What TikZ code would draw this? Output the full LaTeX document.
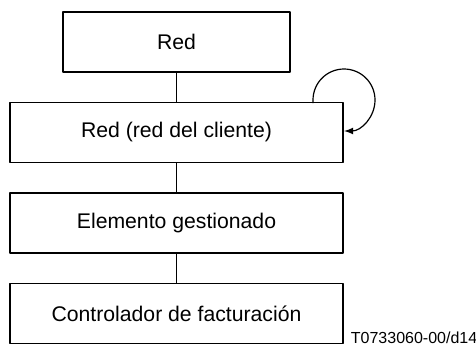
\documentclass[tikz,border=0pt]{standalone}
\usepackage{fontspec}
\setmainfont{Liberation Sans}
\begin{document}
\begin{tikzpicture}[x=0.5pt,y=0.5pt,line join=round,>=latex,
  box/.style={draw,line width=0.6pt,minimum width=166.5pt,minimum height=30pt,inner sep=0pt}]
  \fontsize{10.6}{12.7}\selectfont
  \useasboundingbox (0,0) rectangle (476,345);
  \node[box,minimum width=113.5pt] (red) at (176.5,303) {Red};
  \node[box] (client) at (176.5,212.5) {Red (red del cliente)};
  \node[box] (element) at (176.5,122) {Elemento gestionado};
  \node[box] (billing) at (176.5,31.5) {Controlador de facturación};
  \foreach \a/\b in {red/client,client/element,element/billing}
    \draw[line width=0.8pt] (\a) -- (\b);
  \coordinate (loop) at (313,242);
  \draw[->,line width=0.6pt] (loop) -- ++(0,3) arc[start angle=180,end angle=-90,radius=31];
  \node[font=\fontsize{8}{9.6}\selectfont,anchor=base west,inner sep=0pt] (code) at (350.5,2) {T0733060-00/d14};
\end{tikzpicture}
\end{document}
